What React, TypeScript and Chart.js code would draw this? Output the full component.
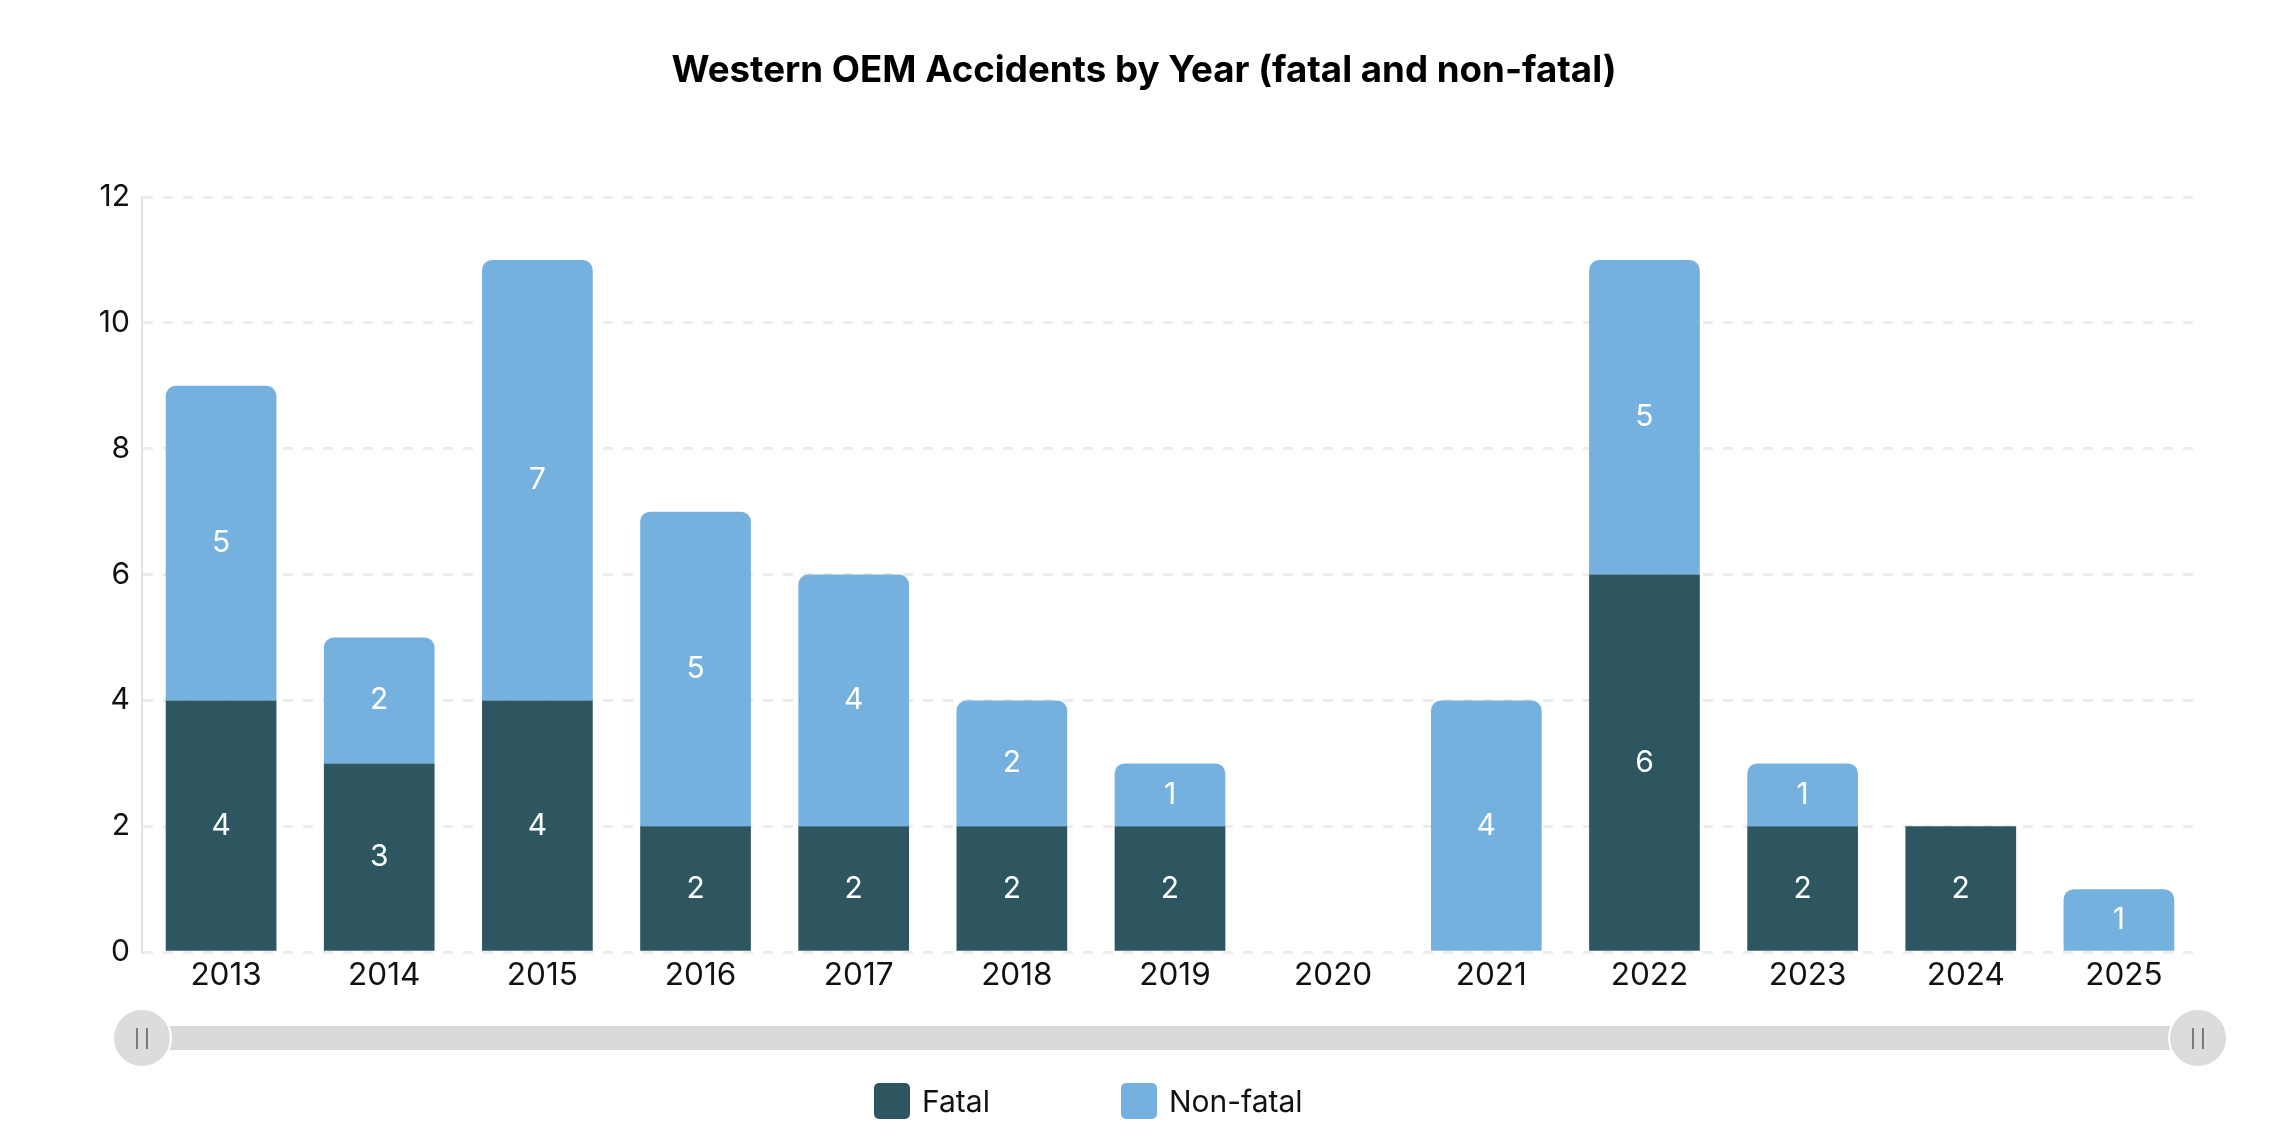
import { useEffect, useRef } from "react";
import { Chart, registerables } from "chart.js";
import type { ChartConfiguration, Plugin } from "chart.js";

Chart.register(...registerables);

const YEARS = ["2013", "2014", "2015", "2016", "2017", "2018", "2019", "2020", "2021", "2022", "2023", "2024", "2025"];
const FATAL = [4, 3, 4, 2, 2, 2, 2, 0, 0, 6, 2, 2, 0];
const NON_FATAL = [5, 2, 7, 5, 4, 2, 1, 0, 4, 5, 1, 0, 1];
const Y_MAX = 12;
const Y_STEP = 2;

const TITLE = "Western OEM Accidents by Year (fatal and non-fatal)";
const SERIES_LABELS = ["Fatal", "Non-fatal"];
const SERIES_COLORS = ["#2d5660", "#74b1df"];

const FONT = "Inter, 'Noto Sans', sans-serif";

// white value labels in the middle of each stacked segment
const segmentLabels: Plugin<"bar"> = {
  id: "segmentLabels",
  afterDatasetsDraw(chart) {
    const ctx = chart.ctx;
    ctx.save();
    ctx.fillStyle = "#ffffff";
    ctx.font = `400 30px ${FONT}`;
    ctx.textAlign = "center";
    ctx.textBaseline = "middle";
    chart.data.datasets.forEach((ds, i) => {
      const meta = chart.getDatasetMeta(i);
      meta.data.forEach((bar, j) => {
        const v = ds.data[j] as number;
        if (!v) return;
        const { x, y, base } = bar.getProps(["x", "y", "base"], true) as { x: number; y: number; base: number };
        ctx.fillText(String(v), x, (y + base) / 2);
      });
    });
    ctx.restore();
  },
};

function Handle({ left }: { left: number }) {
  return (
    <div
      style={{
        position: "absolute",
        left: left - 30,
        top: 1000,
        width: 56,
        height: 56,
        borderRadius: "50%",
        background: "#dcdcdc",
        border: "2px solid #ffffff",
      }}
    >
      <div style={{ position: "absolute", left: 22, top: 18, width: 2, height: 21, background: "#7a7a7a" }} />
      <div style={{ position: "absolute", left: 32, top: 18, width: 2, height: 21, background: "#7a7a7a" }} />
    </div>
  );
}

export default function App() {
  const canvasRef = useRef<HTMLCanvasElement | null>(null);
  const chartRef = useRef<Chart | null>(null);

  useEffect(() => {
    if (!canvasRef.current) return;

    const config: ChartConfiguration<"bar"> = {
      type: "bar",
      data: {
        labels: YEARS,
        datasets: [
          {
            label: SERIES_LABELS[0],
            data: FATAL,
            backgroundColor: SERIES_COLORS[0],
            borderWidth: 0,
            borderRadius: 0,
            barPercentage: 0.7,
            categoryPercentage: 1,
          },
          {
            label: SERIES_LABELS[1],
            data: NON_FATAL,
            backgroundColor: SERIES_COLORS[1],
            borderWidth: 0,
            borderRadius: { topLeft: 10, topRight: 10, bottomLeft: 0, bottomRight: 0 },
            borderSkipped: false,
            barPercentage: 0.7,
            categoryPercentage: 1,
          },
        ],
      },
      options: {
        responsive: true,
        maintainAspectRatio: false,
        animation: false,
        layout: { padding: { left: 14, right: 0, top: 0, bottom: 144 } },
        plugins: {
          legend: { display: false },
          tooltip: { enabled: false },
          title: {
            display: true,
            text: TITLE,
            color: "#000000",
            font: { family: FONT, size: 36.7, weight: "bold" },
            padding: { top: 41, bottom: 104 },
          },
        },
        scales: {
          x: {
            stacked: true,
            grid: { display: false },
            border: { display: false },
            ticks: { color: "#111111", font: { family: FONT, size: 31.5 }, padding: -4, labelOffset: 5, maxRotation: 0 },
          },
          y: {
            stacked: true,
            min: 0,
            max: Y_MAX,
            afterFit: (scale) => {
              scale.width = 120;
            },
            grid: { color: "#ececec", lineWidth: 3, drawTicks: false },
            border: { display: true, color: "#e3e3e3", width: 2, dash: [10, 10] },
            ticks: { stepSize: Y_STEP, color: "#111111", font: { family: FONT, size: 30 }, padding: 12 },
          },
          // empty right-hand axis, only there to keep the right margin
          yRight: {
            position: "right",
            min: 0,
            max: Y_MAX,
            afterFit: (scale) => {
              scale.width = 68;
            },
            grid: { display: false },
            border: { display: false },
            ticks: { display: false },
          },
        },
      },
      plugins: [segmentLabels],
    };

    chartRef.current = new Chart(canvasRef.current, config);

    return () => {
      chartRef.current?.destroy();
      chartRef.current = null;
    };
  }, []);

  return (
    <div style={{ position: "relative", width: "100%", height: 1126, fontFamily: FONT }}>
      <canvas ref={canvasRef} />
      {/* range slider under the axis */}
      <div style={{ position: "absolute", left: 134, top: 1018, width: 2056, height: 24, background: "#d9d9d9" }} />
      <Handle left={134} />
      <Handle left={2190} />
      {/* legend */}
      <div style={{ position: "absolute", left: 866, top: 1075, display: "flex", alignItems: "center", gap: 131 }}>
        {SERIES_LABELS.map((name, i) => (
          <div key={name} style={{ display: "flex", alignItems: "center", gap: 12 }}>
            <div style={{ width: 36, height: 36, borderRadius: 5, background: SERIES_COLORS[i] }} />
            <span style={{ fontSize: 30, color: "#111111", lineHeight: "36px" }}>{name}</span>
          </div>
        ))}
      </div>
    </div>
  );
}
